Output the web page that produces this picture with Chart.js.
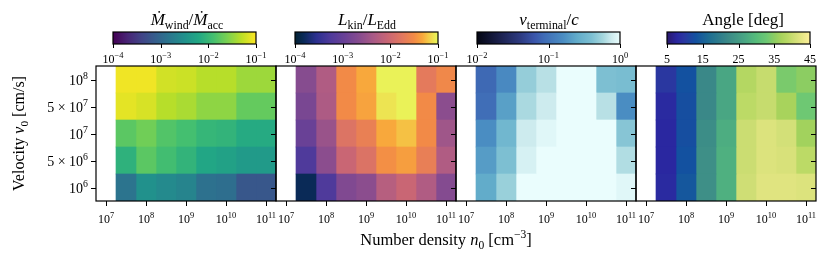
<!DOCTYPE html>
<html>
<head>
<meta charset="utf-8">
<script src="https://cdn.jsdelivr.net/npm/chart.js@4.4.1/dist/chart.umd.min.js"></script>
<style>
  body { margin: 0; background: #fff; }
  #fig { position: relative; width: 830px; height: 261px; }
  #fig canvas { position: absolute; left: 0; top: 0; }
</style>
</head>
<body>
<div id="fig"></div>
<script>
// grid: columns are log10(n0), rows are v0 from top to bottom
const nExp = [7.5, 8, 8.5, 9, 9.5, 10, 10.5, 11];
const v0 = [1e8, 5e7, 1e7, 5e6, 1e6];
const nTickExp = [7, 8, 9, 10, 11];

// Mdot_wind / Mdot_acc
const mdotRatio = [
    [0.087, 0.087, 0.062, 0.058, 0.047, 0.047, 0.036, 0.036],
    [0.076, 0.066, 0.047, 0.041, 0.031, 0.031, 0.019, 0.019],
    [0.017, 0.022, 0.015, 0.0126, 0.0095, 0.0089, 0.0068, 0.0068],
    [0.0083, 0.017, 0.012, 0.0089, 0.0059, 0.0051, 0.0042, 0.0042],
    [0.0014, 0.0032, 0.0026, 0.0022, 0.0013, 0.0012, 0.00065, 0.00065]
];
// L_kin / L_Edd
const lkinRatio = [
    [0.0022, 0.0051, 0.031, 0.047, 0.093, 0.093, 0.019, 0.029],
    [0.0016, 0.0048, 0.031, 0.044, 0.081, 0.093, 0.031, 0.0024],
    [0.0011, 0.0032, 0.015, 0.023, 0.047, 0.058, 0.031, 0.0036],
    [0.00056, 0.0024, 0.0089, 0.0145, 0.033, 0.041, 0.022, 0.0051],
    [0.00015, 0.00056, 0.0019, 0.0024, 0.0059, 0.0089, 0.0051, 0.0021]
];
// v_terminal / c
const vTermRatio = [
    [0.083, 0.15, 0.50, 0.66, 1.0, 1.0, 0.40, 0.38],
    [0.091, 0.21, 0.60, 0.76, 1.0, 1.0, 0.66, 0.16],
    [0.16, 0.33, 0.76, 0.91, 1.0, 1.0, 1.0, 0.44],
    [0.20, 0.40, 0.83, 1.0, 1.0, 1.0, 1.0, 0.63],
    [0.25, 0.52, 1.0, 1.0, 1.0, 1.0, 1.0, 0.91]
];
// opening angle [deg]
const angleDeg = [
    [9.8, 13, 21.8, 26.6, 38.2, 39.8, 33.8, 35],
    [8.2, 12.6, 21.8, 26.6, 39, 39.8, 37, 33],
    [7.8, 12.6, 22.6, 27.8, 40.2, 41.8, 41, 36.6],
    [7.8, 13, 23, 28.2, 40.2, 41.8, 41.4, 39],
    [8.2, 13.8, 23, 28.2, 40.6, 42.2, 42.2, 41.8]
];

const mdotTicks = [1e-4, 1e-3, 1e-2, 1e-1];
const lkinTicks = [1e-4, 1e-3, 1e-2, 1e-1];
const vTermTicks = [1e-2, 1e-1, 1];
const angleTicks = [5, 15, 25, 35, 45];

// colormaps
const VIRIDIS = [[0, '#440154'], [0.1, '#482475'], [0.2, '#414487'], [0.3, '#355f8d'], [0.4, '#2a788e'],
    [0.5, '#21918c'], [0.6, '#22a884'], [0.7, '#44bf70'], [0.8, '#7ad151'], [0.9, '#bddf26'], [1, '#fde725']];
const THERMAL = [[0, '#042333'], [0.06, '#0a2a58'], [0.15, '#2c3090'], [0.25, '#4f3a9b'], [0.35, '#6a4196'],
    [0.45, '#874c8f'], [0.55, '#aa5a86'], [0.65, '#c96674'], [0.75, '#e2785f'], [0.83, '#f28a47'],
    [0.89, '#f8a73c'], [0.93, '#f4c846'], [1, '#e8fa5b']];
const ICE = [[0, '#040613'], [0.15, '#1a1f4a'], [0.3, '#2d3a80'], [0.4, '#3a55aa'], [0.47, '#3f6cb6'],
    [0.6, '#4a8cc2'], [0.7, '#62acca'], [0.8, '#7cbfd2'], [0.88, '#a4d6dd'], [0.94, '#cdebee'], [1, '#eafdfd']];
const HALINE = [[0, '#2a186c'], [0.07, '#2a27a0'], [0.12, '#2a37a0'], [0.2, '#1351a0'], [0.3, '#1f6f92'],
    [0.42, '#3a8888'], [0.55, '#4aa883'], [0.62, '#55bb7b'], [0.7, '#6ec873'], [0.75, '#8ccd62'],
    [0.8, '#a8d35c'], [0.85, '#bcda66'], [0.88, '#cbdd72'], [0.93, '#e0e480'], [1, '#fdef9a']];

const SERIF = '"Liberation Serif", "DejaVu Serif", serif';

function hexToRgb(h) {
    const n = parseInt(h.slice(1), 16);
    return [(n >> 16) & 255, (n >> 8) & 255, n & 255];
}

function sample(stops, t) {
    t = Math.max(0, Math.min(1, t));
    for (let k = 1; k < stops.length; k++) {
        if (t <= stops[k][0]) {
            const [t0, c0] = stops[k - 1], [t1, c1] = stops[k];
            const f = (t - t0) / (t1 - t0);
            const a = hexToRgb(c0), b = hexToRgb(c1);
            return 'rgb(' + a.map((v, i) => Math.round(v + (b[i] - v) * f)).join(',') + ')';
        }
    }
    return stops[stops.length - 1][1];
}

// rich text: parts like {t, i (italic), sub, sup}
function drawRich(ctx, parts, x, y, size, align) {
    const fontOf = p => (p.i ? 'italic ' : '') + ((p.sub || p.sup) ? size * 0.7 : size) + 'px ' + SERIF;
    let w = 0;
    parts.forEach(p => { ctx.font = fontOf(p); w += ctx.measureText(p.t).width; });
    let cx = align === 'center' ? x - w / 2 : align === 'right' ? x - w : x;
    ctx.textAlign = 'left';
    ctx.textBaseline = 'alphabetic';
    parts.forEach(p => {
        ctx.font = fontOf(p);
        const dy = p.sup ? -0.4 * size : p.sub ? 0.22 * size : 0;
        ctx.fillText(p.t, cx, y + dy);
        cx += ctx.measureText(p.t).width;
    });
}

function powLabel(v) {
    const e = Math.floor(Math.log10(v) + 1e-9);
    const m = Math.round(v / Math.pow(10, e));
    const exp = e < 0 ? '\u2212' + (-e) : String(e);
    const parts = [{ t: '10' }, { t: exp, sup: true }];
    if (m !== 1) parts.unshift({ t: m + ' \u00d7 ' });
    return parts;
}

const panels = [
    { values: mdotRatio, cmap: VIRIDIS, log: true, min: 1e-4, max: 1e-1, ticks: mdotTicks, cbLeft: 113, titleX: 187,
      title: [{ t: '\u1E40', i: true }, { t: 'wind', sub: true }, { t: '/' }, { t: '\u1E40', i: true }, { t: 'acc', sub: true }] },
    { values: lkinRatio, cmap: THERMAL, log: true, min: 1e-4, max: 1e-1, ticks: lkinTicks, cbLeft: 295, titleX: 367,
      title: [{ t: 'L', i: true }, { t: 'kin', sub: true }, { t: '/' }, { t: 'L', i: true }, { t: 'Edd', sub: true }] },
    { values: vTermRatio, cmap: ICE, log: true, min: 1e-2, max: 1, ticks: vTermTicks, cbLeft: 477, titleX: 549,
      title: [{ t: 'v', i: true }, { t: 'terminal', sub: true }, { t: '/' }, { t: 'c', i: true }] },
    { values: angleDeg, cmap: HALINE, log: false, min: 5, max: 45, ticks: angleTicks, cbLeft: 667, titleX: 743,
      title: [{ t: 'Angle [deg]' }] }
];

const W = 830, H = 261;
const fig = document.getElementById('fig');
function addCanvas() {
    const c = document.createElement('canvas');
    c.width = W; c.height = H;
    fig.appendChild(c);
    return c.getContext('2d');
}

function norm(p, v) {
    if (p.log) return (Math.log10(v) - Math.log10(p.min)) / (Math.log10(p.max) - Math.log10(p.min));
    return (v - p.min) / (p.max - p.min);
}

const crisp = v => Math.round(v) + 0.5;

panels.forEach((p, idx) => {
    const left = 96 + 180 * idx, right = left + 180, top = 66, bottom = 201;

    const heatAxes = {
        id: 'heatAxes',
        afterDatasetsDraw(chart) {
            const { ctx, chartArea: a, scales: { x, y } } = chart;
            ctx.save();
            ctx.strokeStyle = '#000';
            ctx.fillStyle = '#000';
            ctx.lineWidth = 1;
            ctx.beginPath();
            nTickExp.forEach(k => {
                const px = crisp(x.getPixelForValue(Math.pow(10, k)));
                ctx.moveTo(px, a.bottom);
                ctx.lineTo(px, a.bottom + 5);
            });
            v0.forEach((v, r) => {
                const py = crisp(y.getPixelForValue(r));
                ctx.moveTo(a.right, py);
                ctx.lineTo(a.right - 5, py);
                if (idx === 0) {
                    ctx.moveTo(a.left, py);
                    ctx.lineTo(a.left - 5, py);
                }
            });
            ctx.stroke();
            ctx.lineWidth = 1.2;
            ctx.strokeRect(a.left, a.top, a.right - a.left, a.bottom - a.top);

            nTickExp.forEach(k => {
                drawRich(ctx, [{ t: '10' }, { t: String(k), sup: true }], x.getPixelForValue(Math.pow(10, k)), 223, 12, 'center');
            });
            if (idx === 0) {
                v0.forEach((v, r) => drawRich(ctx, powLabel(v), 88, y.getPixelForValue(r) + 5, 14, 'right'));
                drawRich(ctx, [{ t: 'Number density ' }, { t: 'n', i: true }, { t: '0', sub: true }, { t: ' [cm' },
                    { t: '\u22123', sup: true }, { t: ']' }], 446, 245, 16.5, 'center');
                ctx.translate(24, 133.5);
                ctx.rotate(-Math.PI / 2);
                drawRich(ctx, [{ t: 'Velocity ' }, { t: 'v', i: true }, { t: '0', sub: true }, { t: ' [cm/s]' }], 0, 0, 16, 'center');
            }
            ctx.restore();
        }
    };

    new Chart(addCanvas(), {
        type: 'bar',
        data: {
            labels: v0.map(String),
            datasets: nExp.map((e, j) => ({
                data: v0.map(() => [Math.pow(10, e - 0.25), Math.pow(10, e + 0.25)]),
                backgroundColor: p.values.map(row => sample(p.cmap, norm(p, row[j]))),
                borderWidth: 0,
                barPercentage: 1,
                categoryPercentage: 1,
                grouped: false
            }))
        },
        options: {
            indexAxis: 'y',
            responsive: false,
            animation: false,
            events: [],
            layout: { padding: { left: left, right: W - right, top: top, bottom: H - bottom } },
            plugins: { legend: { display: false }, tooltip: { enabled: false } },
            scales: {
                x: { type: 'logarithmic', display: false, min: Math.pow(10, 6.75), max: Math.pow(10, 11.25) },
                y: { type: 'category', display: false }
            }
        },
        plugins: [heatAxes]
    });

    // colorbar
    const cbAxes = {
        id: 'cbAxes',
        afterDatasetsDraw(chart) {
            const { ctx, chartArea: a, scales: { x } } = chart;
            ctx.save();
            ctx.strokeStyle = '#000';
            ctx.fillStyle = '#000';
            ctx.lineWidth = 1;
            ctx.beginPath();
            p.ticks.forEach(t => {
                const px = crisp(x.getPixelForValue(t));
                ctx.moveTo(px, a.bottom);
                ctx.lineTo(px, a.bottom + 4);
            });
            ctx.stroke();
            ctx.lineWidth = 1.2;
            ctx.strokeRect(a.left, a.top, a.right - a.left, a.bottom - a.top);
            p.ticks.forEach(t => {
                const parts = p.log ? powLabel(t) : [{ t: String(t) }];
                drawRich(ctx, parts, x.getPixelForValue(t), 63, 12, 'center');
            });
            drawRich(ctx, p.title, p.titleX, 25, 17, 'center');
            ctx.restore();
        }
    };

    new Chart(addCanvas(), {
        type: 'bar',
        data: {
            labels: ['cb'],
            datasets: [{
                data: [[p.min, p.max]],
                backgroundColor: c => {
                    const a = c.chart.chartArea;
                    if (!a) return p.cmap[0][1];
                    const g = c.chart.ctx.createLinearGradient(a.left, 0, a.right, 0);
                    p.cmap.forEach(([t, col]) => g.addColorStop(t, col));
                    return g;
                },
                borderWidth: 0,
                barPercentage: 1,
                categoryPercentage: 1
            }]
        },
        options: {
            indexAxis: 'y',
            responsive: false,
            animation: false,
            events: [],
            layout: { padding: { left: p.cbLeft, right: W - p.cbLeft - 143, top: 32, bottom: H - 44 } },
            plugins: { legend: { display: false }, tooltip: { enabled: false } },
            scales: {
                x: { type: p.log ? 'logarithmic' : 'linear', display: false, min: p.min, max: p.max },
                y: { display: false }
            }
        },
        plugins: [cbAxes]
    });
});
</script>
</body>
</html>
